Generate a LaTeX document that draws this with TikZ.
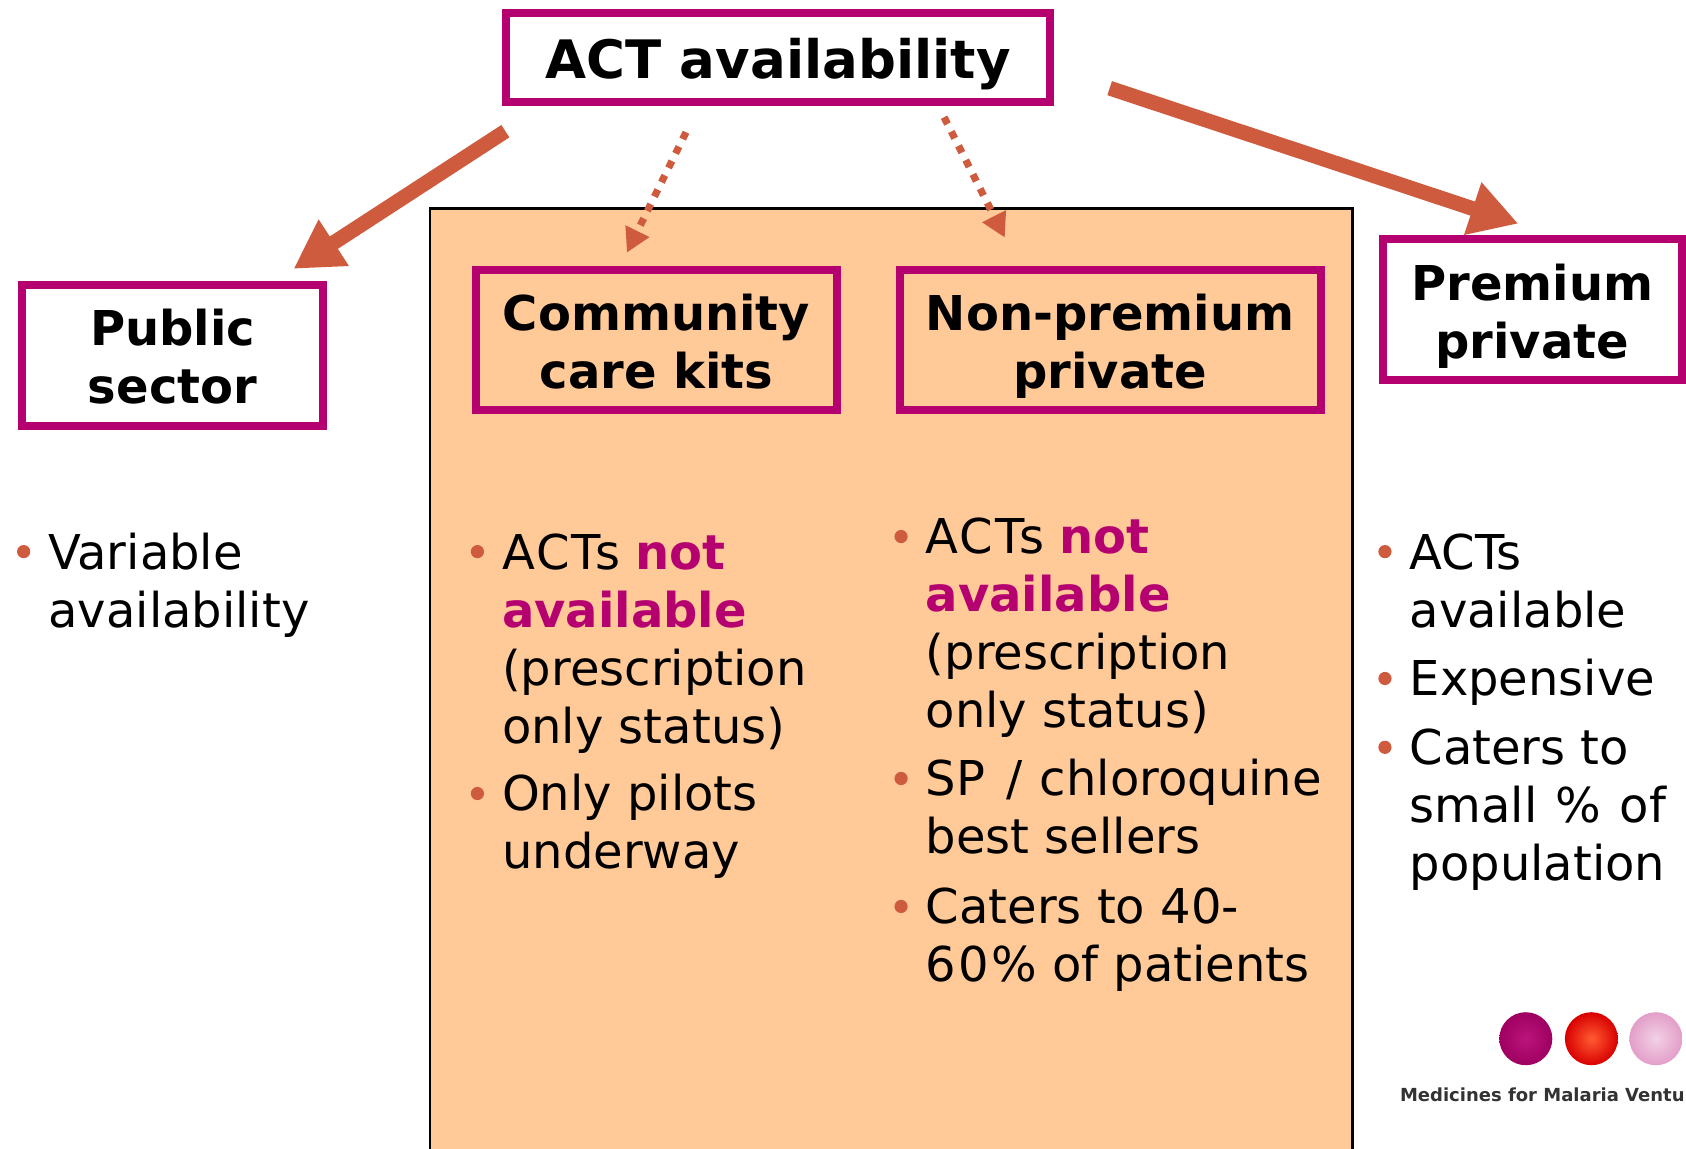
\documentclass[tikz,border=0pt]{standalone}
\usepackage{fontspec}
\setmainfont{DejaVu Sans}
\usetikzlibrary{arrows.meta}
\definecolor{mag}{HTML}{B5006F}
\definecolor{rust}{HTML}{CF5B3E}
\definecolor{peach}{HTML}{FFC998}
\newcommand{\fl}{\rule{0pt}{20pt}}
\newcommand{\hot}[1]{\textcolor{mag}{\textbf{#1}}}
\newcommand{\dn}[2]{\raisebox{-#1}[\height][\depth]{#2}}
\newcommand{\trk}[1]{{\addfontfeature{LetterSpace=4.5}#1}}
\tikzset{
  every node/.style={inner sep=0pt,outer sep=0pt},
  catbox/.style={draw=mag,line width=4pt,align=center,font=\fontsize{24}{29}\selectfont\bfseries},
  body/.style={anchor=north west,align=left,font=\fontsize{24}{29}\selectfont},
  dot/.style={circle,fill=rust,minimum size=6.6pt},
  bigarrow/.style={draw=rust,line width=7.4pt,-{Triangle[length=24pt,width=26pt]}},
  dotarrow/.style={draw=rust,line width=3.6pt,dash pattern=on 3.8pt off 4.2pt,-{Triangle[length=12pt,width=12.5pt]}},
  pill/.style={circle,minimum size=26.5pt},
}
\begin{document}
\begin{tikzpicture}[x=0.5376pt,y=-0.5376pt]
\useasboundingbox (0,0) rectangle (1568,1068);
\fill[peach] (400,194) rectangle (1258,1075);
\draw[black,line width=1.3pt] (400,1075) -- (400,194) -- (1258,194) -- (1258,1075);

\node[catbox,font=\fontsize{26.5}{32}\selectfont\bfseries,minimum width=271.8pt,minimum height=44.9pt] (act) at (723.5,53.5) {\dn{3.5pt}{ACT availability}};
\node[catbox,minimum width=150.3pt,minimum height=70.8pt] (public) at (160.5,330.5) {\dn{0.5pt}{Public}\\\dn{0.5pt}{sector}};
\node[catbox,minimum width=180.4pt,minimum height=70.2pt] (kits) at (610.5,316) {\dn{1pt}{Community}\\\dn{1pt}{care kits}};
\node[catbox,minimum width=210.5pt,minimum height=70.2pt] (nonprem) at (1032.5,316) {\dn{3.2pt}{Non-premium}\\\dn{3.2pt}{private}};
\node[catbox,minimum width=149.3pt,minimum height=70.2pt] (prem) at (1425,288) {\dn{3.2pt}{Premium}\\\dn{3.2pt}{private}};

\coordinate (a1) at (470,122); \coordinate (a1e) at (273,250);
\coordinate (a2) at (1032,82); \coordinate (a2e) at (1412,208);
\coordinate (d1) at (638,123); \coordinate (d1e) at (583,235);
\coordinate (d2) at (878,109); \coordinate (d2e) at (934.5,221);
\draw[bigarrow] (a1) -- (a1e);
\draw[bigarrow] (a2) -- (a2e);
\draw[dotarrow] (d1) -- (d1e);
\draw[dotarrow] (d2) -- (d2e);

% public
\node[dot] (b1) at (22,513) {};
\node[body] (t1) at (45,492) {\fl Variable\\availability};
% community
\node[dot] (b2) at (444,513) {};
\node[body] (t2) at (467,492) {\fl \trk{ACTs} \hot{not}\\\hot{available}\\(prescription\\only status)};
\node[dot] (b3) at (444,738) {};
\node[body] (t3) at (467,717) {\fl Only pilots\\underway};
% non-premium
\node[dot] (b4) at (838,499) {};
\node[body] (t4) at (861,478) {\fl \trk{ACTs} \hot{not}\\\hot{available}\\(prescription\\only status)};
\node[dot] (b5) at (838,724) {};
\node[body] (t5) at (861,703) {\fl SP\hspace{3pt} /\hspace{1pt} chloroquine\\best sellers};
\node[dot] (b6) at (838,843) {};
\node[body] (t6) at (861,822) {\fl Caters to 40-\\\trk{60\%} of patients};
% premium
\node[dot] (b7) at (1288,513) {};
\node[body] (t7) at (1311,492) {\fl ACTs\\available};
\node[dot] (b8) at (1288,631) {};
\node[body] (t8) at (1311,610) {\fl Expensive};
\node[dot] (b9) at (1288,695) {};
\node[body] (t9) at (1311,674) {\fl Caters to\\small\hspace{1.5pt} \%\hspace{1.5pt} of\\population};

% logo
\node[pill,inner color=mag!92!white,outer color=mag!88!black] (p1) at (1419,966) {};
\node[pill,inner color=red!60!orange!80!white,outer color=red!85!black] (p2) at (1480,966) {};
\node[pill,inner color=mag!18!white,outer color=mag!38!white] (p3) at (1540,966) {};
\node[anchor=base west,text=black!80,font=\fontsize{9}{11}\selectfont\bfseries] (logo) at (1302,1024) {Medicines for Malaria Ventu};
\end{tikzpicture}
\end{document}
